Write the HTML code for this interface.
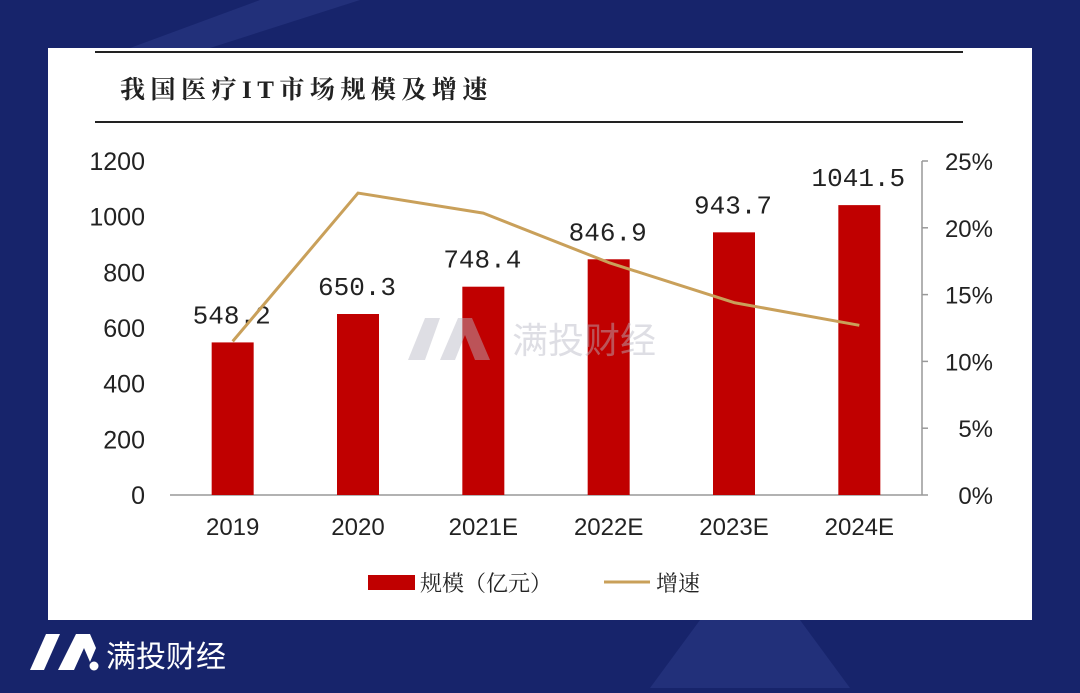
<!DOCTYPE html>
<html><head><meta charset="utf-8">
<style>
body{margin:0;width:1080px;height:688px;overflow:hidden;background:#17246b;font-family:"Liberation Sans","Noto Sans CJK SC",sans-serif;}
#wrap{position:relative;width:1080px;height:688px;}
</style></head>
<body>
<div id="wrap">
<svg width="1080" height="688" viewBox="0 0 1080 688" xmlns="http://www.w3.org/2000/svg">
  <rect x="0" y="0" width="1080" height="688" fill="#17246b"/>
  <polygon points="260,0 360,0 210,48 130,48" fill="#22307a"/>
  <polygon points="700,620 800,620 850,688 650,688" fill="#22307a"/>
  <rect x="48" y="48" width="984" height="572" fill="#ffffff"/>
  <line x1="95" y1="52" x2="963" y2="52" stroke="#222" stroke-width="2"/>
  <line x1="95" y1="122" x2="963" y2="122" stroke="#222" stroke-width="2"/>
  <text x="120" y="98" font-size="25" font-weight="bold" fill="#222" font-family="'Liberation Serif','Noto Serif CJK SC',serif" letter-spacing="5.5">我国医疗IT市场规模及增速</text>
  <g id="axes"></g>
  <g id="bars"></g>
  <g id="line"></g>
  <g opacity="0.45">
    <polygon points="408,360 425,318 440,318 425,360" fill="#b8b8c4"/>
    <polygon points="440,360 458,318 472,318 490,360 475,360 465,335 455,360" fill="#b8b8c4"/>
    <text x="512" y="353" font-size="36" fill="#b8b8c4" font-family="'Noto Sans CJK SC',sans-serif">满投财经</text>
  </g>
  <g>
    <rect x="368" y="575" width="47" height="15" fill="#c00000"/>
    <text x="420" y="591" font-size="22" fill="#222" font-family="'Noto Serif CJK SC',serif">规模（亿元）</text>
    <line x1="604" y1="582" x2="650" y2="582" stroke="#c9a05a" stroke-width="3"/>
    <text x="656" y="591" font-size="22" fill="#222" font-family="'Noto Serif CJK SC',serif">增速</text>
  </g>
  <g>
    <polygon points="30,670 46,634 60,634 44,670" fill="#fff"/>
    <polygon points="58,670 76,634 90,634 96,648 90,662 84,648 74,670" fill="#fff"/>
    <circle cx="94" cy="666" r="4.5" fill="#fff"/>
    <text x="106" y="667" font-size="30" fill="#fff" font-family="'Noto Sans CJK SC',sans-serif">满投财经</text>
  </g>
</svg>
</div>
<script>
const categories = ["2019","2020","2021E","2022E","2023E","2024E"];
const scaleValues = [548.2,650.3,748.4,846.9,943.7,1041.5];
const valueLabels = ["548.2","650.3","748.4","846.9","943.7","1041.5"];
const growthValues = [11.5,22.6,21.1,17.4,14.4,12.7];
const leftTicks = [0,200,400,600,800,1000,1200];
const rightTicks = [0,5,10,15,20,25];

const NS="http://www.w3.org/2000/svg";
const plotL=170, plotR=922, y0=495, yTop=161;
const yL=v=>y0-(v/1200)*(y0-yTop);
const yR=v=>y0-(v/25)*(y0-yTop);
const step=(plotR-plotL)/categories.length;
const xC=i=>plotL+step*(i+0.5);
function mk(tag,attrs,parent){const e=document.createElementNS(NS,tag);for(const k in attrs)e.setAttribute(k,attrs[k]);parent.appendChild(e);return e;}
const axes=document.getElementById('axes'),bars=document.getElementById('bars'),line=document.getElementById('line');

let e=mk('line',{x1:plotL,y1:y0,x2:plotR,y2:y0,stroke:'#999','stroke-width':1.5},axes);


e=mk('line',{x1:plotR,y1:yTop,x2:plotR,y2:y0,stroke:'#999','stroke-width':1.5},axes);


leftTicks.forEach(t=>{
  const tx=mk('text',{x:145,y:yL(t)+9,'font-size':25,'text-anchor':'end',fill:'#222'},axes);
  tx.textContent=t;
  
  
});
rightTicks.forEach(t=>{
  const tk=mk('line',{x1:plotR,y1:yR(t),x2:plotR+6,y2:yR(t),stroke:'#999','stroke-width':1.5},axes);
  
  
  const tx=mk('text',{x:993,y:yR(t)+9,'font-size':24,'text-anchor':'end',fill:'#222'},axes);
  tx.textContent=t+'%';
  
  
});
categories.forEach((c,i)=>{
  const tx=mk('text',{x:xC(i),y:535,'font-size':24,'text-anchor':'middle',fill:'#222'},axes);
  tx.textContent=c;
  
  
});
scaleValues.forEach((v,i)=>{
  const r=mk('rect',{x:xC(i)-21,y:yL(v),width:42,height:y0-yL(v),fill:'#c00000'},bars);
  
  
  const tx=mk('text',{x:xC(i)-1,y:yL(v)-19,'font-size':26,'text-anchor':'middle',fill:'#222','font-family':"'Liberation Mono',monospace"},bars);
  tx.textContent=valueLabels[i];
  
  
});
const pts=growthValues.map((g,i)=>xC(i)+','+yR(g)).join(' ');
const pl=mk('polyline',{points:pts,fill:'none',stroke:'#c9a05a','stroke-width':3,'stroke-linejoin':'round'},line);


</script>
</body></html>
